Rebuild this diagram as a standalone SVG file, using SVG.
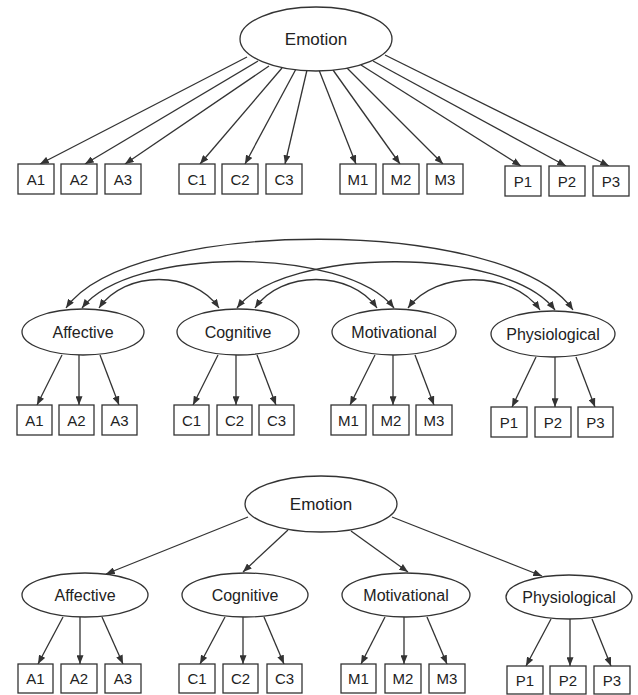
<svg xmlns="http://www.w3.org/2000/svg" width="638" height="695" viewBox="0 0 638 695">
<style>
.bg{fill:#fff}
.node ellipse,.node rect{fill:#fff;stroke:#333;stroke-width:1.3}
.lbl{font-family:"Liberation Sans",Arial,sans-serif;fill:#222;text-anchor:middle}
.big{font-size:17px}
.fac{font-size:16px}
.ind{font-size:15px}
.conn path,.conn line{fill:none;stroke:#333;stroke-width:1.3}
</style>
<defs>
<marker id="ah" viewBox="0 0 10 8" refX="10" refY="4" markerWidth="9" markerHeight="7" markerUnits="userSpaceOnUse" orient="auto-start-reverse">
<path d="M0,0 L10,4 L0,8 Z" fill="#333"/>
</marker>
</defs>
<rect class="bg" x="0" y="0" width="638" height="695"/>

<g id="connectors" class="conn">
<!-- top section -->
<line x1="247" y1="57" x2="40" y2="164" marker-end="url(#ah)"/>
<line x1="258" y1="61" x2="85" y2="164" marker-end="url(#ah)"/>
<line x1="269" y1="66" x2="125" y2="164" marker-end="url(#ah)"/>
<line x1="282" y1="68" x2="200" y2="164" marker-end="url(#ah)"/>
<line x1="296" y1="69" x2="245" y2="164" marker-end="url(#ah)"/>
<line x1="307" y1="70" x2="285" y2="164" marker-end="url(#ah)"/>
<line x1="319" y1="70" x2="356" y2="164" marker-end="url(#ah)"/>
<line x1="333" y1="70" x2="400" y2="164" marker-end="url(#ah)"/>
<line x1="347" y1="68" x2="443" y2="164" marker-end="url(#ah)"/>
<line x1="361" y1="65" x2="521" y2="166" marker-end="url(#ah)"/>
<line x1="373" y1="61" x2="566" y2="166" marker-end="url(#ah)"/>
<line x1="385" y1="55" x2="609" y2="166" marker-end="url(#ah)"/>
<!-- middle correlations -->
<path d="M66,308 C130,216 509,216 573,310" marker-start="url(#ah)" marker-end="url(#ah)"/>
<path d="M82,308 C130,246 346,246 394,308" marker-start="url(#ah)" marker-end="url(#ah)"/>
<path d="M237,308 C285,246 507,246 555,310" marker-start="url(#ah)" marker-end="url(#ah)"/>
<path d="M99,308 C125,270 193,270 219,308" marker-start="url(#ah)" marker-end="url(#ah)"/>
<path d="M255,308 C281,270 351,270 377,308" marker-start="url(#ah)" marker-end="url(#ah)"/>
<path d="M408,308 C436,270 512,270 540,310" marker-start="url(#ah)" marker-end="url(#ah)"/>
<!-- middle loadings -->
<line x1="62" y1="355" x2="37" y2="405" marker-end="url(#ah)"/>
<line x1="79" y1="355" x2="79" y2="405" marker-end="url(#ah)"/>
<line x1="100" y1="355" x2="119" y2="405" marker-end="url(#ah)"/>
<line x1="218" y1="355" x2="193" y2="405" marker-end="url(#ah)"/>
<line x1="236" y1="355" x2="236" y2="405" marker-end="url(#ah)"/>
<line x1="257" y1="355" x2="276" y2="405" marker-end="url(#ah)"/>
<line x1="375" y1="355" x2="350" y2="405" marker-end="url(#ah)"/>
<line x1="393" y1="355" x2="393" y2="405" marker-end="url(#ah)"/>
<line x1="415" y1="355" x2="434" y2="405" marker-end="url(#ah)"/>
<line x1="536" y1="357" x2="512" y2="407" marker-end="url(#ah)"/>
<line x1="555" y1="357" x2="555" y2="407" marker-end="url(#ah)"/>
<line x1="576" y1="357" x2="595" y2="407" marker-end="url(#ah)"/>
<!-- bottom second order -->
<line x1="248" y1="517" x2="106" y2="574" marker-end="url(#ah)"/>
<line x1="288" y1="530" x2="243" y2="572" marker-end="url(#ah)"/>
<line x1="351" y1="531" x2="408" y2="572" marker-end="url(#ah)"/>
<line x1="392" y1="517" x2="542" y2="576" marker-end="url(#ah)"/>
<!-- bottom loadings -->
<line x1="63" y1="617" x2="38" y2="664" marker-end="url(#ah)"/>
<line x1="80" y1="617" x2="80" y2="664" marker-end="url(#ah)"/>
<line x1="102" y1="617" x2="123" y2="664" marker-end="url(#ah)"/>
<line x1="225" y1="617" x2="200" y2="664" marker-end="url(#ah)"/>
<line x1="243" y1="617" x2="243" y2="664" marker-end="url(#ah)"/>
<line x1="264" y1="617" x2="284" y2="664" marker-end="url(#ah)"/>
<line x1="385" y1="617" x2="361" y2="664" marker-end="url(#ah)"/>
<line x1="404" y1="617" x2="404" y2="664" marker-end="url(#ah)"/>
<line x1="427" y1="617" x2="447" y2="664" marker-end="url(#ah)"/>
<line x1="551" y1="619" x2="526" y2="666" marker-end="url(#ah)"/>
<line x1="570" y1="619" x2="570" y2="666" marker-end="url(#ah)"/>
<line x1="592" y1="619" x2="611" y2="666" marker-end="url(#ah)"/>
</g>

<!-- top section nodes -->
<g id="emotion1" class="node"><ellipse cx="316" cy="39" rx="76" ry="32"/><text class="lbl big" x="316" y="45">Emotion</text></g>
<g id="t-A1" class="node"><rect x="18" y="164" width="36" height="30"/><text class="lbl ind" x="36" y="184.5">A1</text></g>
<g id="t-A2" class="node"><rect x="61" y="164" width="36" height="30"/><text class="lbl ind" x="79" y="184.5">A2</text></g>
<g id="t-A3" class="node"><rect x="105" y="164" width="36" height="30"/><text class="lbl ind" x="123" y="184.5">A3</text></g>
<g id="t-C1" class="node"><rect x="179" y="164" width="36" height="30"/><text class="lbl ind" x="197" y="184.5">C1</text></g>
<g id="t-C2" class="node"><rect x="222" y="164" width="36" height="30"/><text class="lbl ind" x="240" y="184.5">C2</text></g>
<g id="t-C3" class="node"><rect x="266" y="164" width="36" height="30"/><text class="lbl ind" x="284" y="184.5">C3</text></g>
<g id="t-M1" class="node"><rect x="340" y="164" width="36" height="30"/><text class="lbl ind" x="358" y="184.5">M1</text></g>
<g id="t-M2" class="node"><rect x="383" y="164" width="36" height="30"/><text class="lbl ind" x="401" y="184.5">M2</text></g>
<g id="t-M3" class="node"><rect x="427" y="164" width="36" height="30"/><text class="lbl ind" x="445" y="184.5">M3</text></g>
<g id="t-P1" class="node"><rect x="505" y="166" width="36" height="30"/><text class="lbl ind" x="523" y="186.5">P1</text></g>
<g id="t-P2" class="node"><rect x="549" y="166" width="36" height="30"/><text class="lbl ind" x="567" y="186.5">P2</text></g>
<g id="t-P3" class="node"><rect x="593" y="166" width="36" height="30"/><text class="lbl ind" x="611" y="186.5">P3</text></g>

<!-- middle section nodes -->
<g id="m-aff" class="node"><ellipse cx="83" cy="332" rx="61" ry="23"/><text class="lbl fac" x="83" y="338">Affective</text></g>
<g id="m-cog" class="node"><ellipse cx="238" cy="332" rx="61" ry="23"/><text class="lbl fac" x="238" y="338">Cognitive</text></g>
<g id="m-mot" class="node"><ellipse cx="394" cy="332" rx="62" ry="23"/><text class="lbl fac" x="394" y="338">Motivational</text></g>
<g id="m-phy" class="node"><ellipse cx="553" cy="334" rx="62" ry="23"/><text class="lbl fac" x="553" y="340">Physiological</text></g>
<g id="m-A1" class="node"><rect x="17" y="405" width="35" height="30"/><text class="lbl ind" x="34.5" y="425.5">A1</text></g>
<g id="m-A2" class="node"><rect x="59" y="405" width="35" height="30"/><text class="lbl ind" x="76.5" y="425.5">A2</text></g>
<g id="m-A3" class="node"><rect x="102" y="405" width="35" height="30"/><text class="lbl ind" x="119.5" y="425.5">A3</text></g>
<g id="m-C1" class="node"><rect x="174" y="405" width="35" height="30"/><text class="lbl ind" x="191.5" y="425.5">C1</text></g>
<g id="m-C2" class="node"><rect x="217" y="405" width="35" height="30"/><text class="lbl ind" x="234.5" y="425.5">C2</text></g>
<g id="m-C3" class="node"><rect x="259" y="405" width="35" height="30"/><text class="lbl ind" x="276.5" y="425.5">C3</text></g>
<g id="m-M1" class="node"><rect x="331" y="405" width="35" height="30"/><text class="lbl ind" x="348.5" y="425.5">M1</text></g>
<g id="m-M2" class="node"><rect x="373" y="405" width="36" height="30"/><text class="lbl ind" x="391" y="425.5">M2</text></g>
<g id="m-M3" class="node"><rect x="416" y="405" width="36" height="30"/><text class="lbl ind" x="434" y="425.5">M3</text></g>
<g id="m-P1" class="node"><rect x="491" y="407" width="36" height="30"/><text class="lbl ind" x="509" y="427.5">P1</text></g>
<g id="m-P2" class="node"><rect x="535" y="407" width="36" height="30"/><text class="lbl ind" x="553" y="427.5">P2</text></g>
<g id="m-P3" class="node"><rect x="578" y="407" width="35" height="30"/><text class="lbl ind" x="595.5" y="427.5">P3</text></g>

<!-- bottom section nodes -->
<g id="emotion2" class="node"><ellipse cx="321" cy="504" rx="76" ry="28"/><text class="lbl big" x="321" y="510">Emotion</text></g>
<g id="b-aff" class="node"><ellipse cx="85" cy="595" rx="63" ry="22"/><text class="lbl fac" x="85" y="601">Affective</text></g>
<g id="b-cog" class="node"><ellipse cx="245" cy="595" rx="63" ry="22"/><text class="lbl fac" x="245" y="601">Cognitive</text></g>
<g id="b-mot" class="node"><ellipse cx="406" cy="595" rx="64" ry="22"/><text class="lbl fac" x="406" y="601">Motivational</text></g>
<g id="b-phy" class="node"><ellipse cx="569" cy="597" rx="63" ry="22"/><text class="lbl fac" x="569" y="603">Physiological</text></g>
<g id="b-A1" class="node"><rect x="18" y="664" width="35" height="29"/><text class="lbl ind" x="35.5" y="684">A1</text></g>
<g id="b-A2" class="node"><rect x="61" y="664" width="36" height="29"/><text class="lbl ind" x="79" y="684">A2</text></g>
<g id="b-A3" class="node"><rect x="105" y="664" width="36" height="29"/><text class="lbl ind" x="123" y="684">A3</text></g>
<g id="b-C1" class="node"><rect x="179" y="664" width="36" height="29"/><text class="lbl ind" x="197" y="684">C1</text></g>
<g id="b-C2" class="node"><rect x="223" y="664" width="35" height="29"/><text class="lbl ind" x="240.5" y="684">C2</text></g>
<g id="b-C3" class="node"><rect x="267" y="664" width="35" height="29"/><text class="lbl ind" x="284.5" y="684">C3</text></g>
<g id="b-M1" class="node"><rect x="341" y="664" width="35" height="29"/><text class="lbl ind" x="358.5" y="684">M1</text></g>
<g id="b-M2" class="node"><rect x="385" y="664" width="36" height="29"/><text class="lbl ind" x="403" y="684">M2</text></g>
<g id="b-M3" class="node"><rect x="429" y="664" width="36" height="29"/><text class="lbl ind" x="447" y="684">M3</text></g>
<g id="b-P1" class="node"><rect x="507" y="666" width="36" height="28"/><text class="lbl ind" x="525" y="685.5">P1</text></g>
<g id="b-P2" class="node"><rect x="550" y="666" width="36" height="28"/><text class="lbl ind" x="568" y="685.5">P2</text></g>
<g id="b-P3" class="node"><rect x="594" y="666" width="36" height="28"/><text class="lbl ind" x="612" y="685.5">P3</text></g>
</svg>
